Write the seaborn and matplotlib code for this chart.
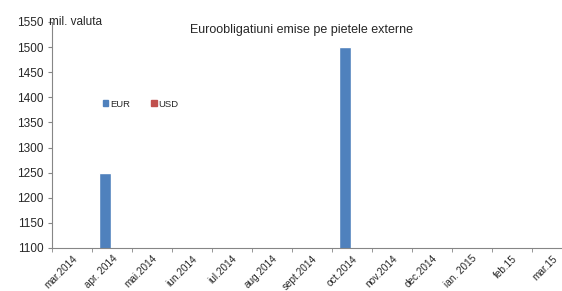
import numpy as np
import pandas as pd
import matplotlib
matplotlib.use("Agg")
import matplotlib.pyplot as plt
import seaborn as sns
from matplotlib.patches import Patch

months = ["mar.2014", "apr. 2014", "mai.2014", "iun.2014", "iul.2014", "aug.2014",
          "sept.2014", "oct.2014", "nov.2014", "dec.2014", "ian. 2015", "feb.15", "mar.15"]
eur = [0, 1250, 0, 0, 0, 0, 0, 1500, 0, 0, 0, 0, 0]
usd = [0, 0, 0, 0, 0, 0, 0, 0, 0, 0, 0, 0, 0]
y_ticks = [1100, 1150, 1200, 1250, 1300, 1350, 1400, 1450, 1500, 1550]

colors = {"EUR": "#4F81BD", "USD": "#C0504D"}

df = pd.DataFrame({
    "luna": months * 2,
    "valuta": ["EUR"] * len(months) + ["USD"] * len(months),
    "suma": eur + usd,
})

sns.set_style("white")
plt.rcParams["font.family"] = ["Liberation Sans", "DejaVu Sans"]

W, H = 562, 291
fig = plt.figure(figsize=(W / 100, H / 100), dpi=100)
# axes run past the right edge, as in the original
left, right, top, bottom = 52, 572, 22, 248
ax = fig.add_axes([left / W, 1 - bottom / H, (right - left) / W, (bottom - top) / H])

sns.barplot(data=df, x="luna", y="suma", hue="valuta", palette=colors,
            width=0.66, gap=0.1, ax=ax, legend=False, saturation=1)

ax.set_ylim(1100, 1550)
ax.set_yticks(y_ticks)
ax.set_xlim(-0.5, len(months) - 0.5)
ax.set_xlabel("")
ax.set_ylabel("")

for s in ["top", "right"]:
    ax.spines[s].set_visible(False)
for s in ["left", "bottom"]:
    ax.spines[s].set_color("#868686")
    ax.spines[s].set_linewidth(0.8)

ax.tick_params(axis="y", labelsize=8.5, length=3, color="#868686", direction="out",
               left=True, pad=3)
ax.tick_params(axis="x", which="major", length=0, labelsize=7.2, pad=4)
ax.set_xticks(np.arange(-0.5, len(months), 1), minor=True)
ax.tick_params(axis="x", which="minor", length=3, color="#868686", direction="out", bottom=True)
plt.setp(ax.get_xticklabels(), rotation=45, ha="right", rotation_mode="anchor")

fig.text(302 / W, 1 - 30 / H, "Euroobligatiuni emise pe pietele externe",
         ha="center", va="center", fontsize=9)
fig.text(49 / W, 1 - 22 / H, "mil. valuta", ha="left", va="center", fontsize=8.5)

handles = [Patch(color=colors[k], label=k) for k in ["EUR", "USD"]]
fig.legend(handles=handles, loc="center left", bbox_to_anchor=(98 / W, 1 - 104 / H),
           ncol=2, frameon=False, fontsize=6.8, handlelength=0.6, handleheight=0.6,
           handletextpad=0.2, columnspacing=2.2, borderpad=0)

fig.savefig("out.png", dpi=100)
